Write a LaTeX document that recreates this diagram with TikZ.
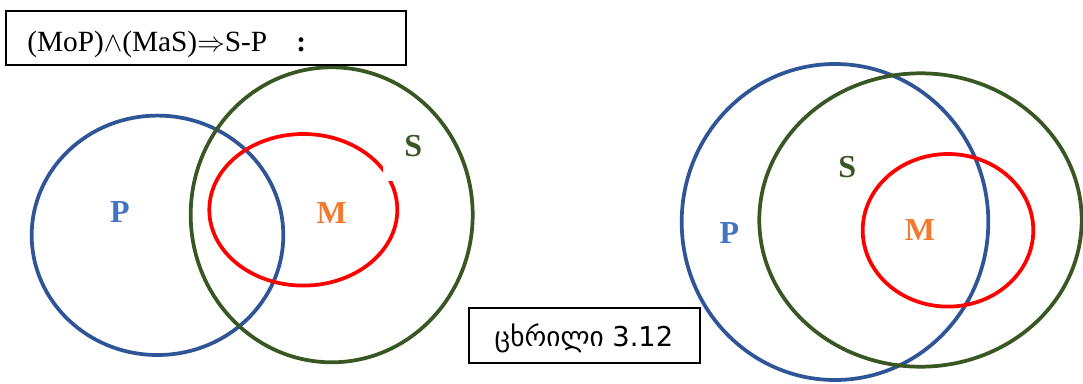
\documentclass[tikz,border=0pt]{standalone}
\usepackage{fontspec}
\setmainfont{Liberation Serif}
\newfontfamily\geofont{DejaVu Sans}
\definecolor{pblue}{HTML}{2F5597}
\definecolor{plabel}{HTML}{4472C4}
\definecolor{sgreen}{HTML}{385723}
\definecolor{mred}{HTML}{FF0000}
\definecolor{morange}{HTML}{F07A30}
\tikzset{
  setline/.style={line width=2.8pt},
  framebox/.style={draw=black, line width=1.4pt, fill=white, inner sep=0pt},
  lbl/.style={font=\fontsize{24}{28}\selectfont\bfseries, inner sep=0pt},
}
\begin{document}
\begin{tikzpicture}[x=0.75pt,y=-0.75pt]
\useasboundingbox (0,0) rectangle (1083,383);
% left diagram
\draw[setline, pblue] (157.5,235.3) ellipse [x radius=125.8, y radius=119.7];
\draw[setline, sgreen] (331.7,214.8) ellipse [x radius=141, y radius=147.5];
\draw[setline, mred] (303.3,209.8) ellipse [x radius=94, y radius=75.8];
\fill[white] (382.9,150) rectangle (398,181);
\node[lbl, text=plabel] (pl) at (120,212) {P};
\node[lbl, text=sgreen] (sl) at (413.3,146) {S};
\node[lbl, text=morange] (ml) at (331.7,213.3) {M};
% right diagram
\draw[setline, pblue] (835,222) ellipse [x radius=153.3, y radius=158];
\draw[setline, sgreen] (920.5,220) ellipse [x radius=161.2, y radius=146.7];
\draw[setline, mred] (948,230.3) ellipse [x radius=85.3, y radius=76.3];
\node[lbl, text=plabel] (pr) at (729.3,233.3) {P};
\node[lbl, text=sgreen] (sr) at (847.3,166.7) {S};
\node[lbl, text=morange] (mr) at (920,230) {M};
% formula box
\node[framebox, minimum width=300pt, minimum height=40.5pt] (fbox) at (206,38) {};
\node[anchor=base west, inner sep=0pt, font=\fontsize{22}{26}\selectfont] (ftext) at (27,51) {(MoP)$\wedge$(MaS)$\Rightarrow$S-P};
\node[anchor=base west, inner sep=0pt, font=\fontsize{22}{26}\selectfont\bfseries] (colon) at (296,51) {:};
% caption box
\node[framebox, minimum width=173.3pt, minimum height=41.3pt] (cbox) at (584.2,335.8) {};
\node[inner sep=0pt, font=\geofont\fontsize{20.5}{24}\selectfont] (ctext) at (584,338) {ცხრილი 3.12};
\end{tikzpicture}
\end{document}
